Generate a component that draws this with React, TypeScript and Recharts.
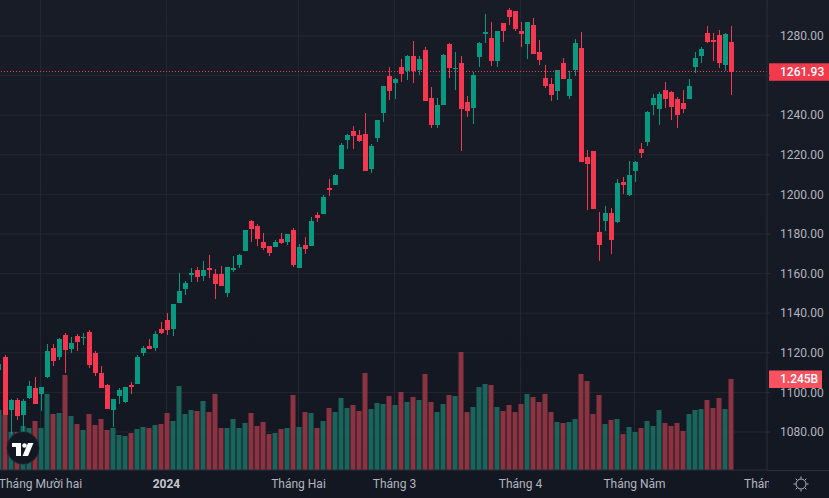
import React from 'react';
import { ComposedChart, Bar, Cell, XAxis, YAxis, CartesianGrid, ReferenceLine } from 'recharts';

const opens = [
  1111.3, 1117.9, 1091.2, 1096.2, 1088.6, 1097.2, 1102.3, 1099.2, 1107.8, 1122.5,
  1117.9, 1129.0, 1122.0, 1128.5, 1127.5, 1130.5, 1119.9, 1109.8, 1103.8, 1091.2,
  1098.2, 1095.2, 1103.8, 1104.3, 1119.9, 1123.5, 1122.5, 1132.1, 1136.6, 1132.1,
  1145.2, 1152.3, 1159.3, 1161.9, 1158.8, 1162.9, 1159.8, 1159.8, 1150.2, 1161.9,
  1164.4, 1171.4, 1186.6, 1184.1, 1176.0, 1174.0, 1173.5, 1177.5, 1176.0, 1182.1,
  1162.9, 1174.5, 1174.0, 1189.6, 1190.1, 1203.3, 1204.8, 1212.9, 1227.5, 1232.0,
  1230.0, 1230.5, 1212.9, 1228.5, 1241.1, 1259.8, 1256.3, 1264.4, 1262.3, 1269.9,
  1262.9, 1273.0, 1248.7, 1235.1, 1245.2, 1276.0, 1263.4, 1266.4, 1246.7, 1243.7,
  1269.4, 1281.0, 1279.0, 1267.4, 1286.6, 1293.1, 1292.6, 1282.5, 1276.0, 1285.6,
  1271.9, 1258.8, 1255.8, 1252.2, 1266.4, 1249.7, 1262.9, 1274.0, 1218.9, 1221.9,
  1181.0, 1186.6, 1190.6, 1186.1, 1206.3, 1199.7, 1211.8, 1223.0, 1226.5, 1245.2,
  1243.2, 1252.8, 1251.7, 1248.2, 1246.2, 1248.2, 1264.4, 1269.9, 1281.5, 1278.0,
  1280.5, 1265.4, 1277.0,
];

const closes = [
  1114.4, 1088.6, 1096.2, 1088.1, 1095.7, 1103.3, 1094.2, 1102.8, 1120.9, 1115.9,
  1127.0, 1121.5, 1125.0, 1125.5, 1128.0, 1113.9, 1109.8, 1102.3, 1091.7, 1096.7,
  1101.3, 1102.8, 1102.8, 1117.9, 1122.5, 1122.0, 1129.5, 1130.0, 1131.5, 1144.7,
  1151.2, 1155.3, 1160.3, 1158.3, 1161.9, 1161.9, 1154.8, 1153.8, 1163.4, 1162.9,
  1169.4, 1182.1, 1182.6, 1177.5, 1173.0, 1170.4, 1176.0, 1175.5, 1180.0, 1164.4,
  1173.5, 1172.5, 1186.6, 1188.1, 1198.7, 1202.3, 1209.8, 1225.0, 1230.0, 1229.5,
  1227.0, 1211.8, 1224.5, 1237.6, 1254.8, 1252.2, 1258.3, 1260.8, 1269.9, 1262.3,
  1268.4, 1247.2, 1235.1, 1245.2, 1270.4, 1263.9, 1263.9, 1243.2, 1242.1, 1260.3,
  1276.5, 1282.0, 1267.4, 1282.5, 1282.5, 1289.6, 1283.6, 1281.0, 1287.1, 1270.9,
  1267.9, 1254.8, 1250.2, 1262.9, 1258.3, 1258.3, 1276.5, 1216.4, 1215.4, 1192.6,
  1174.5, 1190.6, 1177.0, 1205.8, 1204.8, 1209.8, 1216.4, 1220.9, 1241.6, 1248.7,
  1250.7, 1248.2, 1244.2, 1240.1, 1243.2, 1254.8, 1268.9, 1273.5, 1277.0, 1277.0,
  1266.4, 1281.0, 1261.93,
];

const highs = [
  1114.9, 1118.9, 1096.7, 1097.2, 1096.7, 1105.8, 1107.8, 1102.8, 1124.5, 1124.5,
  1127.5, 1130.0, 1128.0, 1129.5, 1130.0, 1131.5, 1120.9, 1113.4, 1104.3, 1096.7,
  1102.3, 1102.8, 1105.3, 1118.9, 1123.5, 1127.0, 1131.0, 1135.6, 1140.1, 1144.7,
  1160.3, 1156.3, 1162.9, 1163.4, 1166.4, 1169.4, 1162.4, 1163.9, 1163.4, 1168.9,
  1169.9, 1182.1, 1187.1, 1185.1, 1180.5, 1174.0, 1177.0, 1180.5, 1180.0, 1183.1,
  1175.0, 1178.5, 1188.6, 1191.1, 1199.7, 1207.8, 1210.3, 1226.0, 1230.5, 1234.6,
  1232.5, 1241.1, 1225.5, 1237.6, 1254.8, 1264.4, 1258.8, 1268.4, 1270.4, 1277.5,
  1269.9, 1274.5, 1254.3, 1248.7, 1270.9, 1276.5, 1271.9, 1269.9, 1249.7, 1261.8,
  1277.0, 1291.1, 1287.1, 1282.5, 1286.6, 1294.1, 1292.6, 1287.1, 1287.1, 1289.1,
  1278.0, 1265.4, 1258.8, 1262.9, 1268.9, 1262.3, 1278.5, 1282.0, 1222.5, 1221.9,
  1191.1, 1194.2, 1193.2, 1207.8, 1208.8, 1216.9, 1216.9, 1226.0, 1242.1, 1250.7,
  1251.7, 1256.8, 1252.2, 1249.2, 1252.8, 1258.3, 1271.9, 1274.5, 1285.1, 1281.5,
  1283.0, 1281.5, 1285.1,
];

const lows = [
  1110.3, 1088.6, 1079.0, 1086.1, 1080.0, 1096.7, 1094.2, 1090.6, 1107.3, 1113.4,
  1116.4, 1109.8, 1119.9, 1120.9, 1124.0, 1112.4, 1108.3, 1102.3, 1091.7, 1082.6,
  1094.2, 1094.7, 1099.2, 1104.3, 1118.4, 1122.0, 1120.9, 1129.5, 1129.0, 1128.5,
  1145.2, 1149.2, 1155.8, 1155.8, 1156.3, 1157.8, 1147.2, 1153.8, 1148.2, 1160.8,
  1162.9, 1171.4, 1176.0, 1174.0, 1172.0, 1168.9, 1173.5, 1175.0, 1174.5, 1163.4,
  1162.9, 1169.9, 1174.0, 1186.1, 1190.1, 1199.2, 1204.8, 1212.9, 1223.0, 1223.0,
  1226.5, 1211.8, 1210.8, 1226.5, 1236.6, 1247.7, 1248.2, 1256.8, 1257.8, 1256.3,
  1260.3, 1247.2, 1233.6, 1233.6, 1245.2, 1258.8, 1252.8, 1221.9, 1239.1, 1235.6,
  1264.4, 1276.5, 1264.9, 1264.4, 1277.0, 1285.6, 1282.5, 1274.5, 1268.4, 1270.9,
  1265.4, 1253.8, 1247.2, 1247.7, 1258.3, 1248.2, 1259.8, 1216.4, 1192.1, 1192.6,
  1166.4, 1181.5, 1169.9, 1185.6, 1200.2, 1199.2, 1206.3, 1218.4, 1224.5, 1240.1,
  1235.1, 1243.7, 1237.6, 1233.6, 1241.1, 1248.2, 1261.3, 1266.4, 1276.5, 1267.4,
  1263.9, 1262.3, 1250.2,
];

// volume in billions
const volumes = [
  0.821, 0.752, 0.52, 0.52, 0.602, 0.575, 0.67, 0.575, 1.04, 0.766,
  0.78, 1.3, 0.739, 0.629, 0.547, 0.766, 0.616, 0.698, 0.547, 0.575,
  0.479, 0.465, 0.506, 0.561, 0.588, 0.575, 0.616, 0.629, 0.78, 0.67,
  1.149, 0.766, 0.821, 0.807, 0.944, 0.793, 1.04, 0.575, 0.575, 0.698,
  0.575, 0.643, 0.78, 0.602, 0.657, 0.492, 0.506, 0.561, 0.575, 1.026,
  0.588, 0.793, 0.78, 0.575, 0.67, 0.848, 0.793, 0.985, 0.848, 0.889,
  0.807, 1.327, 0.834, 0.917, 0.903, 1.012, 0.889, 1.067, 0.93, 0.999,
  0.958, 1.313, 0.93, 0.793, 0.903, 1.026, 1.012, 1.614, 0.793, 0.862,
  1.135, 1.176, 1.163, 0.862, 0.807, 0.889, 0.793, 0.903, 1.04, 0.999,
  0.93, 1.04, 0.793, 0.657, 0.643, 0.657, 0.698, 1.313, 1.217, 0.766,
  1.026, 0.629, 0.684, 0.698, 0.492, 0.588, 0.52, 0.575, 0.67, 0.602,
  0.821, 0.643, 0.602, 0.643, 0.534, 0.766, 0.821, 0.834, 0.958, 0.848,
  0.985, 0.834, 1.245,
];

const priceTicks = [1080, 1100, 1120, 1140, 1160, 1180, 1200, 1220, 1240, 1260, 1280];
const monthTicks = [7, 28, 50, 66, 87, 106, 129];
const monthLabels = ['Tháng Mười hai', '2024', 'Tháng Hai', 'Tháng 3', 'Tháng 4', 'Tháng Năm', 'Tháng Sáu'];
const gridTicks = [7, 28, 50, 66, 87, 106];

const lastPrice = 1261.93;
const lastVolume = 1.245;

const UP = '#089981';
const DOWN = '#f7374f';
const UP_VOL = '#1a645c';
const DOWN_VOL = '#8b3341';
const GRID = '#232732';
const FONT = 'Roboto, sans-serif';

const data = opens.map((open, i) => ({
  i,
  open,
  close: closes[i],
  high: highs[i],
  low: lows[i],
  volume: volumes[i],
  range: [lows[i], highs[i]],
}));

// the bar spans low..high, so wick and body are worked out from that span
function Candle(props: any) {
  const { x, y, width, height, payload } = props;
  const top = Math.min(y, y + height);
  const span = Math.abs(height);
  const perUnit = span / (payload.high - payload.low);
  const bodyTop = Math.round(top + (payload.high - Math.max(payload.open, payload.close)) * perUnit);
  const bodyBottom = Math.round(top + (payload.high - Math.min(payload.open, payload.close)) * perUnit);
  const left = Math.round(x);
  const color = payload.close >= payload.open ? UP : DOWN;
  return (
    <g shapeRendering="crispEdges">
      <rect x={left + 2} y={Math.round(top)} width={1} height={Math.round(span)} fill={color} />
      <rect x={left} y={bodyTop} width={5} height={Math.max(bodyBottom - bodyTop, 1)} fill={color} />
    </g>
  );
}

function MonthTick(props: any) {
  const { x, payload } = props;
  const k = monthTicks.indexOf(payload.value);
  const isYear = monthLabels[k] === '2024';
  return (
    <g clipPath="url(#axis-clip)">
      <text
        x={x}
        y={488}
        textAnchor="middle"
        fontFamily={FONT}
        fontSize={12}
        fontWeight={isYear ? 700 : 400}
        fill={isYear ? '#c3c6ce' : '#b2b5be'}
      >
        {monthLabels[k]}
      </text>
    </g>
  );
}

function Tag({ viewBox, text, color, tagWidth }: any) {
  const y = viewBox.y;
  return (
    <g>
      <rect x={769} y={y - 8.5} width={tagWidth} height={17.5} fill={color} />
      <text x={780} y={y + 4.5} fontFamily={FONT} fontSize={12} fontWeight={500} fill="#ffffff">
        {text}
      </text>
    </g>
  );
}

export default function App() {
  return (
    <div
      style={{
        position: 'absolute',
        left: 0,
        top: 0,
        width: 829,
        height: 498,
        overflow: 'hidden',
        background: 'linear-gradient(#181c27, #131722)',
      }}
    >
      <ComposedChart
        width={829}
        height={498}
        data={data}
        margin={{ top: 0, right: 0, bottom: 0, left: 0 }}
      >
        <defs>
          <clipPath id="axis-clip">
            <rect x={0} y={470} width={769} height={28} />
          </clipPath>
        </defs>
        <CartesianGrid
          xAxisId="price"
          yAxisId="price"
          stroke={GRID}
          strokeWidth={1}
          verticalValues={gridTicks}
          horizontalValues={priceTicks}
        />
        <XAxis
          xAxisId="price"
          dataKey="i"
          type="number"
          domain={[0.25, 128.08333]}
          allowDataOverflow
          ticks={monthTicks}
          interval={0}
          tick={<MonthTick />}
          tickLine={false}
          axisLine={{ stroke: '#2a2e39' }}
          height={28}
        />
        <XAxis xAxisId="vol" dataKey="i" type="number" domain={[0.25, 128.08333]} allowDataOverflow hide />
        <YAxis
          yAxisId="price"
          orientation="right"
          type="number"
          domain={[1060.81, 1298.18]}
          allowDataOverflow
          ticks={priceTicks}
          interval={0}
          width={62}
          tickSize={3}
          tickMargin={10}
          // the 1260 label sits under the last-price tag
          tickFormatter={(v: number) => (v === 1260 ? '' : v.toFixed(2))}
          tick={{ fill: '#b2b5be', fontSize: 12, fontFamily: FONT }}
          tickLine={{ stroke: '#2a2e39' }}
          axisLine={{ stroke: '#2a2e39' }}
        />
        <YAxis yAxisId="vol" type="number" domain={[0, 6.43]} allowDataOverflow hide />
        <Bar xAxisId="vol" yAxisId="vol" dataKey="volume" barSize={5} isAnimationActive={false}>
          {data.map((d) => (
            <Cell key={d.i} fill={d.close >= d.open ? UP_VOL : DOWN_VOL} />
          ))}
        </Bar>
        <Bar
          xAxisId="price"
          yAxisId="price"
          dataKey="range"
          barSize={5}
          shape={<Candle />}
          isAnimationActive={false}
        />
        <ReferenceLine
          xAxisId="price"
          yAxisId="price"
          y={lastPrice}
          stroke={DOWN}
          strokeDasharray="1 2"
          shapeRendering="crispEdges"
          label={<Tag text={lastPrice.toFixed(2)} color="#f23a4d" tagWidth={60} />}
        />
        <ReferenceLine
          xAxisId="vol"
          yAxisId="vol"
          y={lastVolume}
          stroke="none"
          label={<Tag text={lastVolume.toFixed(3) + 'B'} color="#f7525f" tagWidth={53} />}
        />
      </ComposedChart>
      <svg width={829} height={498} style={{ position: 'absolute', left: 0, top: 0, pointerEvents: 'none' }}>
        <line x1={767} y1={470.5} x2={829} y2={470.5} stroke="#2a2e39" />
        <circle cx={23} cy={448} r={16} fill="#131722" stroke="#1e222d" />
        <path d="M12 443h9v13h-5v-9h-4z" fill="#ffffff" />
        <circle cx={24.5} cy={445.5} r={2.3} fill="#ffffff" />
        <path d="M28 443h5.5L28 456h-5.5z" fill="#ffffff" />
        <g stroke="#b2b5be" strokeWidth={1} fill="none">
          <circle cx={801} cy={484} r={5} />
          <path d="M801 476.5v2M801 489.5v2M793.5 484h2M806.5 484h2M795.7 478.7l1.4 1.4M805 488l1.4 1.4M795.7 489.3l1.4-1.4M805 480l1.4-1.4" />
        </g>
      </svg>
    </div>
  );
}
